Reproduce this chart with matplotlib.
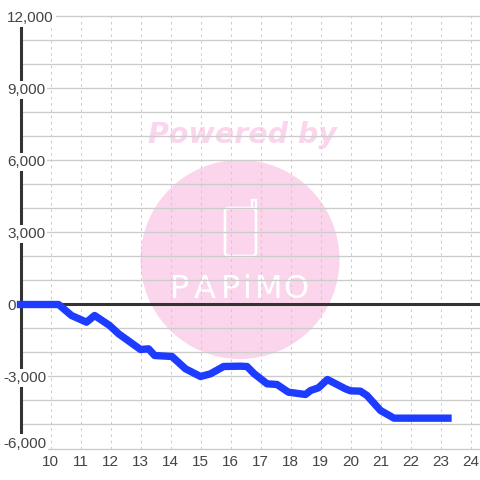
import matplotlib
matplotlib.use("Agg")
from matplotlib import pyplot as plt
from matplotlib.patches import Circle, FancyBboxPatch, Rectangle

plt.rcParams["font.family"] = ["Liberation Sans", "DejaVu Sans"]

hours = [9.0, 10.27, 10.7, 11.2, 11.47, 11.97, 12.27, 13.0, 13.27, 13.47, 14.05,
         14.5, 15.0, 15.33, 15.77, 16.33, 16.55, 16.78, 17.22, 17.55, 17.93,
         18.5, 18.67, 18.93, 19.23, 19.83, 20.0, 20.33, 20.55, 21.0, 21.45, 23.25]
values = [0, 0, -458, -736, -458, -875, -1220, -1875, -1847, -2125, -2167,
          -2680, -3000, -2890, -2583, -2570, -2583, -2875, -3305, -3333, -3653,
          -3750, -3583, -3472, -3125, -3514, -3597, -3611, -3792, -4417, -4736, -4736]

x_ticks = list(range(10, 25))
y_grid = list(range(-6000, 13000, 1000))
y_labelled = [12000, 9000, 6000, 3000, 0, -3000, -6000]

PINK = "#fbd5ec"
GREY = "#cccccc"
DARK = "#333333"
TEXT = "#444444"


def fx(px):
    return px / 480


def fy(px):
    return 1 - px / 480


fig = plt.figure(figsize=(4.8, 4.8), dpi=100)
ax = fig.add_axes([fx(20.5), fy(448.5), fx(459.5), 432 / 480])
ax.set_xlim(9, 9 + 459.5 / 30)
ax.set_ylim(-6000, 12000)
for side in ["top", "right", "bottom"]:
    ax.spines[side].set_visible(False)
ax.spines["left"].set_color(DARK)
ax.spines["left"].set_linewidth(2.2)

# watermark sits under the grid
ax.add_patch(Circle((fx(240), fy(259.5)), fx(99.5), transform=fig.transFigure,
                    facecolor=PINK, edgecolor="none", zorder=0.1))
ax.text(fx(242), fy(135), "Powered by", transform=fig.transFigure, color=PINK,
        family="DejaVu Sans", weight="bold", style="italic", fontsize=20.5,
        ha="center", va="center", zorder=0.1)
ax.add_patch(FancyBboxPatch((fx(225), fy(256)), fx(31), fx(48),
                            boxstyle="round,pad=0,rounding_size=0.008",
                            transform=fig.transFigure, facecolor="none",
                            edgecolor="white", linewidth=1.9, zorder=0.2))
ax.add_patch(Rectangle((fx(252), fy(208)), fx(4), fx(8), transform=fig.transFigure,
                       facecolor="none", edgecolor="white", linewidth=1.6, zorder=0.2))
for px, letter in zip([180, 205, 231, 247, 269, 296], "PAPiMO"):
    ax.text(fx(px), fy(290), letter, transform=fig.transFigure, color="white",
            family="DejaVu Sans", fontsize=23, ha="center", va="center", zorder=0.2)

ax.set_xticks(x_ticks)
ax.set_yticks(y_grid)
ax.set_yticklabels([])
ax.tick_params(axis="both", length=0)
ax.tick_params(axis="x", labelsize=11, labelcolor=TEXT, pad=5)
ax.set_axisbelow(True)
ax.grid(axis="y", color=GREY, linewidth=0.95)
ax.grid(axis="x", color=GREY, linewidth=0.75, linestyle=(0, (2.5, 3.5)))
for line in ax.get_ygridlines():
    line.set_clip_on(False)

ax.axhline(0, color=DARK, linewidth=2.2, zorder=2)
ax.plot(hours, values, color="#1e3cff", linewidth=5.3, solid_capstyle="projecting",
        clip_on=False, zorder=4)

# y labels are left aligned with a white box that hides the axis behind them
label_tf = ax.get_yaxis_transform()
for value in y_labelled:
    left = fx(3 if value < 0 else 7)
    # the bottom label is nudged up, clear of the x tick labels
    y = value + 270 if value == -6000 else value
    ax.text((left - fx(20.5)) / (459.5 / 480), y, f"{value:,}", transform=label_tf,
            color=TEXT, fontsize=11, ha="left", va="center_baseline", zorder=3,
            clip_on=False, bbox=dict(facecolor="white", edgecolor="none", pad=1.5))

fig.savefig("out.png", dpi=100)
